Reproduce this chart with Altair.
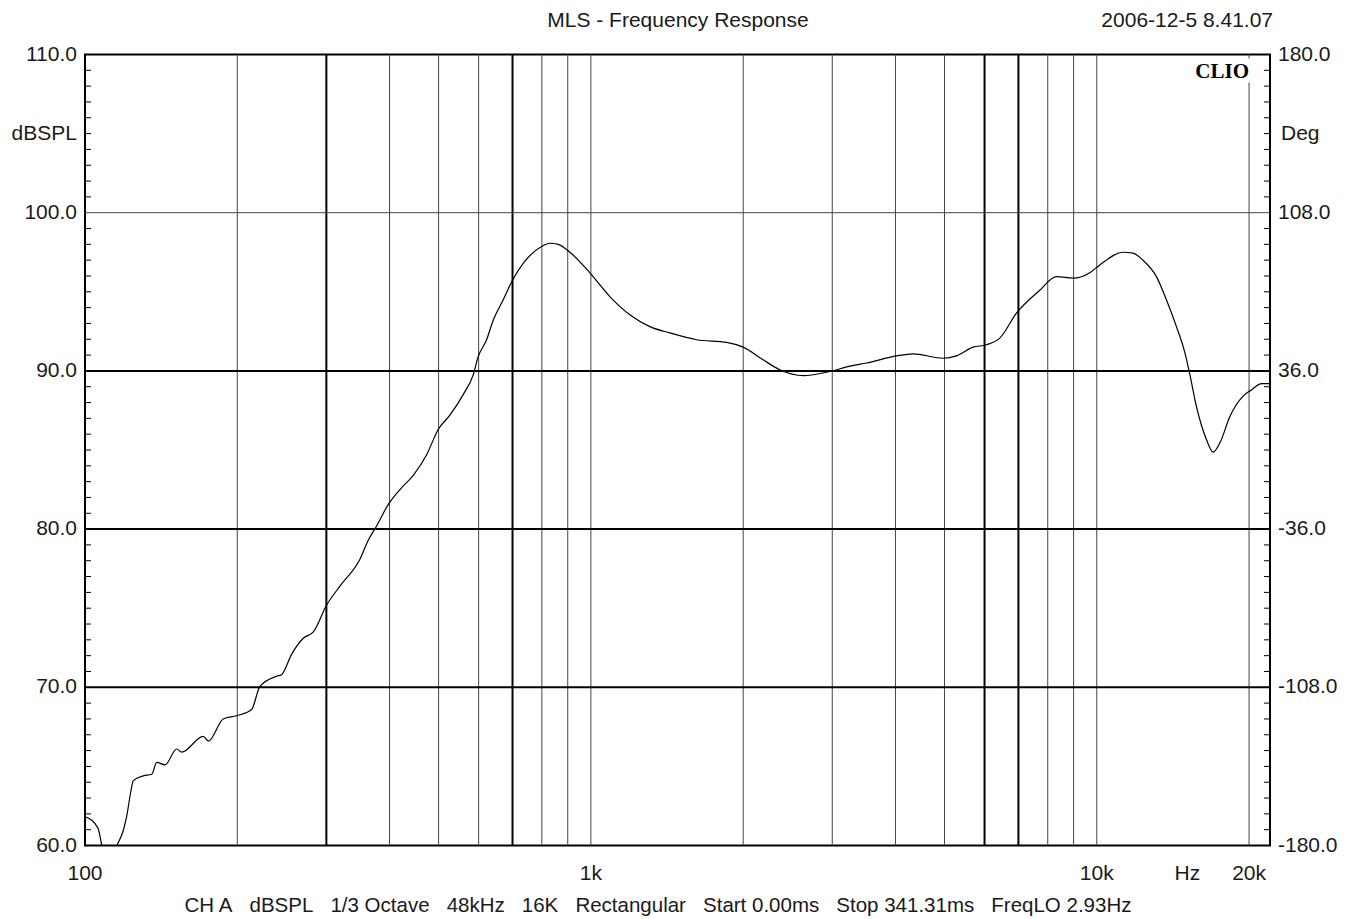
import altair as alt
import pandas as pd

# ---------------- data ----------------
freq_hz = [100.5, 106.1, 108.0, 111.0, 113.6, 115.7, 118.9, 120.9, 123.1, 124.6,
           130.4, 135.5, 138.6, 143.9, 151.8, 155.3, 171.3, 175.3, 187.6, 199.4,
           213.5, 221.7, 239.2, 244.7, 256.2, 270.1, 282.7, 300.4, 319.1, 349.5,
           363.0, 377.1, 397.5, 419.4, 445.5, 473.5, 499.1, 526.4, 559.2, 585.3,
           598.8, 622.1, 641.1, 671.0, 700.4, 734.8, 799.1, 829.9, 861.8, 908.9,
           995.5, 1090, 1194, 1308, 1433, 1618, 1855, 2000, 2190, 2363,
           2628, 2968, 3250, 3507, 4020, 4335, 4970, 5281, 5695, 6053,
           6431, 6938, 7715, 8325, 8980, 9687, 10140, 11270, 11790, 12340,
           13120, 13730, 14370, 14920, 15270, 15740, 16480, 16980, 17510, 18320,
           19460, 20220, 21160, 22000]
spl_db = [61.8, 61.1, 60.0, 59.3, 59.3, 60.0, 60.9, 61.85, 63.35, 64.1,
          64.4, 64.5, 65.25, 65.1, 66.1, 65.9, 66.9, 66.6, 68.0, 68.2,
          68.6, 70.06, 70.7, 70.8, 72.1, 73.1, 73.5, 75.2, 76.4, 78.1,
          79.3, 80.2, 81.55, 82.5, 83.4, 84.7, 86.3, 87.2, 88.5, 89.75,
          90.9, 91.97, 93.2, 94.5, 95.75, 96.8, 97.86, 98.07, 98.0, 97.5,
          96.2, 94.7, 93.55, 92.8, 92.4, 91.97, 91.8, 91.5, 90.7, 90.07,
          89.7, 89.96, 90.3, 90.5, 90.95, 91.08, 90.8, 90.95, 91.5, 91.65,
          92.07, 93.65, 95.1, 95.96, 95.86, 96.2, 96.7, 97.5, 97.44, 97.0,
          95.96, 94.5, 92.8, 91.2, 89.8, 87.75, 85.65, 84.87, 85.44, 87.1,
          88.4, 88.8, 89.2, 89.2]

grid_freqs = [200, 300, 400, 500, 600, 700, 800, 900, 1000,
              2000, 3000, 4000, 5000, 6000, 7000, 8000, 9000, 10000, 20000]
grid_db = [70, 80, 90, 100]
left_ticks = [110, 100, 90, 80, 70, 60]
left_labels = ["110.0", "100.0", "90.0", "80.0", "70.0", "60.0"]
right_labels = ["180.0", "108.0", "36.0", "-36.0", "-108.0", "-180.0"]
x_tick_freqs = [100, 1000, 10000, 20000]
x_tick_labels = ["100", "1k", "10k", "20k"]
hz_unit_freq = [15100]
unit_db = [105]
minor_db = [v for v in range(61, 110) if v % 10 != 0]

title_text = "MLS - Frequency Response"
date_text = "2006-12-5 8.41.07"
brand_text = "CLIO"
footer_parts = ["CH A", "dBSPL", "1/3 Octave", "48kHz", "16K", "Rectangular",
                "Start 0.00ms", "Stop 341.31ms", "FreqLO 2.93Hz"]

# ---------------- layout ----------------
W, H = 1185, 791
FONT = "Liberation Sans"
FS = 21
NB = "\u00a0"
TXT = "#1a1a1a"

xs = alt.Scale(type="log", domain=[100, 22000], nice=False)
ys = alt.Scale(domain=[60, 110], nice=False, zero=False)

curve = pd.DataFrame({"f": freq_hz, "db": spl_db})
vgrid = pd.DataFrame({"f": grid_freqs})
hgrid = pd.DataFrame({"db": grid_db})
minor = pd.DataFrame({"db": minor_db})
ylab = pd.DataFrame({"db": left_ticks, "l": left_labels, "r": right_labels})
xlab = pd.DataFrame({"f": x_tick_freqs, "t": x_tick_labels})
units = pd.DataFrame({"db": unit_db})
one = pd.DataFrame({"a": [0]})

bold_f = alt.FieldOneOfPredicate(field="f", oneOf=[300, 700, 6000, 7000])
bold_db = alt.FieldOneOfPredicate(field="db", oneOf=[70, 80, 90])

vlines = alt.Chart(vgrid).mark_rule().encode(
    x=alt.X("f:Q", scale=xs, axis=None),
    y=alt.value(0), y2=alt.value(H),
    strokeWidth=alt.condition(bold_f, alt.value(2), alt.value(1)),
    color=alt.condition(bold_f, alt.value("#000000"), alt.value("#444444")),
)

hlines = alt.Chart(hgrid).mark_rule().encode(
    y=alt.Y("db:Q", scale=ys, axis=None),
    x=alt.value(0), x2=alt.value(W),
    strokeWidth=alt.condition(bold_db, alt.value(2), alt.value(1)),
    color=alt.condition(bold_db, alt.value("#000000"), alt.value("#444444")),
)

ticks_l = alt.Chart(minor).mark_rule(color="black", strokeWidth=1).encode(
    y=alt.Y("db:Q", scale=ys, axis=None), x=alt.value(0), x2=alt.value(6))
ticks_r = alt.Chart(minor).mark_rule(color="black", strokeWidth=1).encode(
    y=alt.Y("db:Q", scale=ys, axis=None), x=alt.value(W - 6), x2=alt.value(W))

brand_bg = alt.Chart(one).mark_rect(fill="white").encode(
    x=alt.value(W - 82), x2=alt.value(W - 16), y=alt.value(4), y2=alt.value(28))
brand = alt.Chart(one).mark_text(
    text=brand_text, font="Liberation Serif", fontWeight="bold", fontSize=21,
    align="right", baseline="alphabetic", color="black").encode(
    x=alt.value(W - 21), y=alt.value(23.5))

line = alt.Chart(curve).mark_line(color="black", strokeWidth=1.2, clip=True,
                                  interpolate="monotone").encode(
    x=alt.X("f:Q", scale=xs, axis=None),
    y=alt.Y("db:Q", scale=ys, axis=None),
)

lab_l = alt.Chart(ylab).mark_text(font=FONT, fontSize=FS, align="right",
                                  baseline="middle", color=TXT).encode(
    y=alt.Y("db:Q", scale=ys, axis=None), x=alt.value(-8), text="l:N")
lab_r = alt.Chart(ylab).mark_text(font=FONT, fontSize=FS, align="left",
                                  baseline="middle", color=TXT).encode(
    y=alt.Y("db:Q", scale=ys, axis=None), x=alt.value(W + 8), text="r:N")
unit_l = alt.Chart(units).mark_text(text="dBSPL", font=FONT, fontSize=FS, align="right",
                                    baseline="middle", color=TXT).encode(
    y=alt.Y("db:Q", scale=ys, axis=None), x=alt.value(-8))
unit_r = alt.Chart(units).mark_text(text="Deg", font=FONT, fontSize=FS, align="left",
                                    baseline="middle", color=TXT).encode(
    y=alt.Y("db:Q", scale=ys, axis=None), x=alt.value(W + 11))

lab_x = alt.Chart(xlab).mark_text(font=FONT, fontSize=FS, align="center",
                                  baseline="middle", color=TXT).encode(
    x=alt.X("f:Q", scale=xs, axis=None), y=alt.value(H + 28), text="t:N")
hz = alt.Chart(pd.DataFrame({"f": hz_unit_freq})).mark_text(
    text="Hz", font=FONT, fontSize=FS, align="center", baseline="middle",
    color=TXT).encode(x=alt.X("f:Q", scale=xs, axis=None), y=alt.value(H + 28))

title = alt.Chart(one).mark_text(text=title_text, font=FONT, fontSize=FS,
                                 align="center", baseline="middle", color=TXT).encode(
    x=alt.value(593), y=alt.value(-34))
date = alt.Chart(one).mark_text(text=date_text, font=FONT, fontSize=FS,
                                align="right", baseline="middle", color=TXT).encode(
    x=alt.value(W + 3), y=alt.value(-34))
footer = alt.Chart(one).mark_text(text=(NB * 3).join(footer_parts), font=FONT, fontSize=20.5,
                                  align="center", baseline="middle", color=TXT).encode(
    x=alt.value(573), y=alt.value(H + 60))

chart = alt.layer(
    vlines, hlines, brand_bg, ticks_l, ticks_r, line, brand,
    lab_l, lab_r, unit_l, unit_r, lab_x, hz, title, date, footer
).properties(
    width=W, height=H,
    autosize=alt.AutoSizeParams(type="none"),
    padding={"left": 77, "top": 46.5, "right": 75, "bottom": 70},
    background="white",
).configure_view(stroke="black", strokeWidth=2)

chart.save("out.html", embed_options={"renderer": "svg", "actions": False})
